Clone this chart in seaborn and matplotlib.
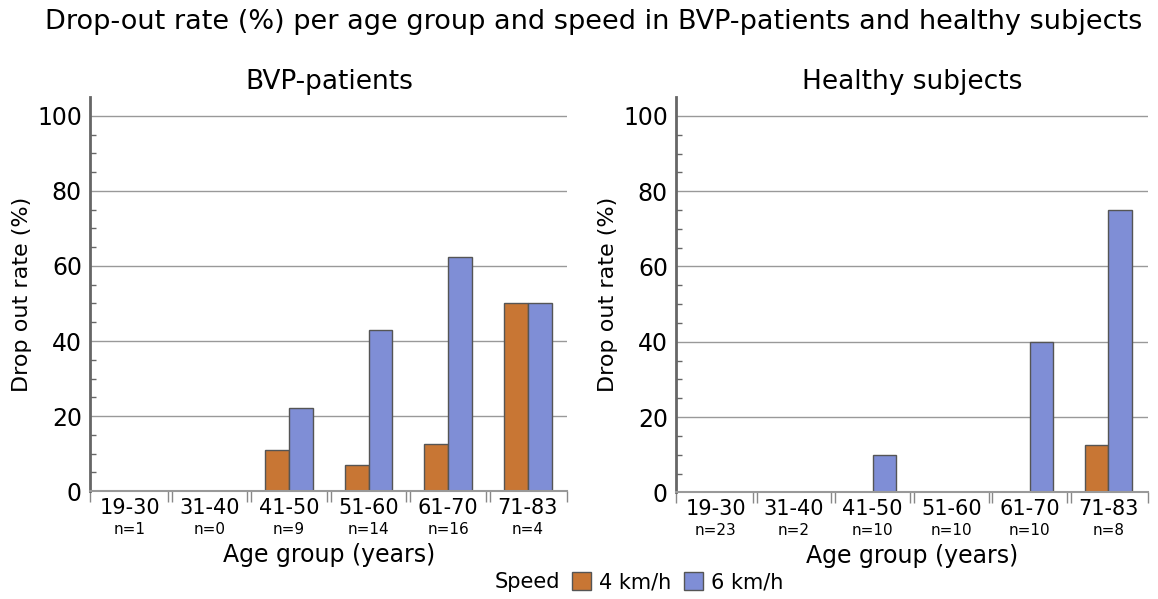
import matplotlib
matplotlib.use("Agg")
import matplotlib.pyplot as plt
import seaborn as sns
import pandas as pd
import numpy as np
from matplotlib.patches import Patch

age_groups = ['19-30', '31-40', '41-50', '51-60', '61-70', '71-83']
speeds = ['4 km/h', '6 km/h']

bvp_4 = [0, 0, 11.1, 7.1, 12.5, 50]
bvp_6 = [0, 0, 22.2, 42.9, 62.5, 50]
bvp_n = [1, 0, 9, 14, 16, 4]

healthy_4 = [0, 0, 0, 0, 0, 12.5]
healthy_6 = [0, 0, 10, 0, 40, 75]
healthy_n = [23, 2, 10, 10, 10, 8]

colors = {'4 km/h': '#C87634', '6 km/h': '#7F8ED6'}


def make_df(v4, v6):
    return pd.DataFrame({
        'age': age_groups * 2,
        'speed': [speeds[0]] * 6 + [speeds[1]] * 6,
        'rate': v4 + v6,
    })


sns.set_style("white")
plt.rcParams['font.family'] = ['DejaVu Sans']
plt.rcParams['text.color'] = 'black'
plt.rcParams['axes.labelcolor'] = 'black'
plt.rcParams['xtick.color'] = 'black'
plt.rcParams['ytick.color'] = 'black'

fig = plt.figure(figsize=(11.58, 5.99), dpi=100)
ax1 = fig.add_axes([0.078, 0.18, 0.412, 0.658])
ax2 = fig.add_axes([0.584, 0.178, 0.407, 0.66])

panels = [(ax1, 'BVP-patients', bvp_4, bvp_6, bvp_n),
          (ax2, 'Healthy subjects', healthy_4, healthy_6, healthy_n)]

for ax, title, v4, v6, ns in panels:
    df = make_df(v4, v6)
    sns.barplot(data=df, x='age', y='rate', hue='speed', palette=colors,
                width=0.6, gap=0, saturation=1, edgecolor='#555555',
                linewidth=1, ax=ax, legend=False)
    ax.set_ylim(0, 105)
    ax.set_xlim(-0.5, 5.5)
    ax.set_yticks([0, 20, 40, 60, 80, 100])
    ax.set_yticks(np.arange(5, 105, 5), minor=True)
    ax.yaxis.grid(True, which='major', color='#999999', linewidth=1)
    ax.set_axisbelow(True)
    for s in ['top', 'right']:
        ax.spines[s].set_visible(False)
    ax.spines['left'].set_color('#666666')
    ax.spines['left'].set_linewidth(2)
    ax.spines['bottom'].set_color('#999999')
    ax.spines['bottom'].set_linewidth(1.5)
    ax.tick_params(axis='y', which='major', left=True, labelsize=17,
                   length=0, pad=6)
    ax.tick_params(axis='y', which='minor', left=True, direction='in',
                   length=4, color='#666666', width=1)
    ax.set_xticks(range(len(age_groups)))
    ax.set_xticklabels(age_groups)
    bounds = np.arange(0.5, 5.5, 1)
    minor_x = np.concatenate([[-0.5], bounds - 0.025, bounds + 0.025, [5.5]])
    ax.set_xticks(minor_x, minor=True)
    ax.tick_params(axis='x', which='major', bottom=True, labelsize=15,
                   length=0, pad=5)
    ax.tick_params(axis='x', which='minor', bottom=True, direction='out',
                   length=8, color='#888888', width=1)
    for i, n in enumerate(ns):
        ax.annotate(f'n={n}', xy=(i, 0), xycoords=('data', 'axes fraction'),
                    xytext=(0, -33), textcoords='offset points',
                    ha='center', va='bottom', fontsize=11)
    ax.set_xlabel('Age group (years)', fontsize=17, labelpad=18)
    ax.set_ylabel('Drop out rate (%)', fontsize=16, labelpad=4)
    ax.set_title(title, fontsize=19, pad=6)

fig.suptitle('Drop-out rate (%) per age group and speed in BVP-patients and healthy subjects',
             fontsize=19.5, x=0.513, y=0.985)

handles = [Patch(visible=False)] + [
    Patch(facecolor=colors[s], edgecolor='#555555', linewidth=1) for s in speeds]
labels = ['Speed'] + speeds
leg = fig.legend(handles, labels, loc='lower center', ncol=3, frameon=False,
                 bbox_to_anchor=(0.54, -0.02), fontsize=15, handlelength=0.9,
                 handleheight=0.9, handletextpad=0.4, columnspacing=0.6)

fig.savefig('out.png', dpi=100)
